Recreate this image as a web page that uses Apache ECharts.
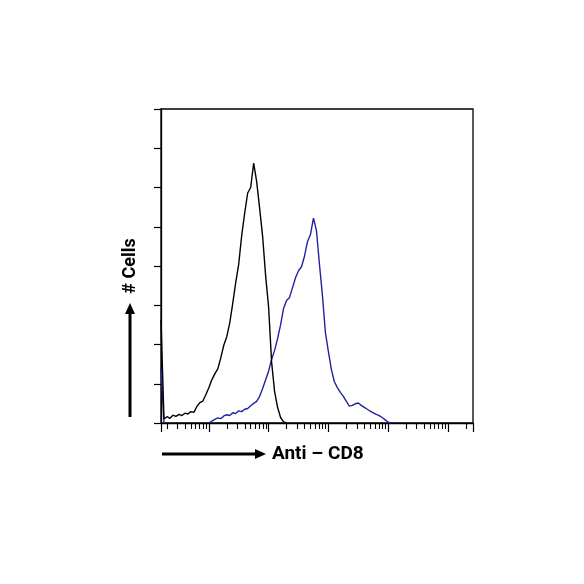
<!DOCTYPE html>
<html>
<head>
<meta charset="utf-8">
<script src="https://cdn.jsdelivr.net/npm/echarts@6/dist/echarts.min.js"></script>
<style>
  html, body { margin: 0; padding: 0; background: #fff; }
  #chart { width: 584px; height: 584px; }
</style>
</head>
<body>
<div id="chart"></div>
<script>
// x axis is log10 of the fluorescence intensity (FACS 18-bit range)
const xMin = 0.2
const xMax = 5.4185
const binStart = 0.2
const binWidth = 0.05

// isotype control (black) counts per bin
const isotypeCounts = [
  2.63, 0.10, 0.16, 0.12, 0.20, 0.17, 0.22, 0.19, 0.25, 0.23,
  0.29, 0.27, 0.42, 0.52, 0.56, 0.72, 0.90, 1.10, 1.25, 1.38,
  1.66, 1.98, 2.20, 2.55, 3.05, 3.58, 4.05, 4.78, 5.35, 5.86,
  6.00, 6.62, 6.15, 5.47, 4.75, 3.75, 2.95, 1.55, 0.80, 0.40,
  0.14, 0.03, 0
]

// anti-CD8 stained (blue) counts per bin
const cd8Counts = [
  1.40, 0, null, null, null, null, null, null, null, null,
  null, null, null, null, null, null, 0, 0.05, 0.09, 0.13,
  0.11, 0.18, 0.21, 0.19, 0.26, 0.24, 0.31, 0.29, 0.35, 0.37,
  0.44, 0.50, 0.55, 0.68, 0.88, 1.10, 1.32, 1.62, 1.85, 2.15,
  2.50, 2.92, 3.12, 3.20, 3.45, 3.70, 3.88, 3.98, 4.25, 4.62,
  4.80, 5.22, 4.90, 4.05, 3.25, 2.30, 1.82, 1.36, 1.05, 0.90,
  0.78, 0.68, 0.55, 0.43, 0.45, 0.49, 0.51, 0.45, 0.40, 0.35,
  0.30, 0.26, 0.22, 0.19, 0.14, 0.08, 0.02, 0
]

// tick positions on the log axis
const majorTicks = [0.2, 1, 2, 3, 4, 5, 5.4185]
const minorMultipliers = [2, 3, 4, 5, 6, 7, 8, 9]
const decades = [0, 1, 2, 3, 4, 5]

const yMax = 8
const xTitle = 'Anti – CD8'
const yTitle = '# Cells'

function toPoints(counts) {
  return counts.map((c, i) => [binStart + i * binWidth, c])
}

const minorTicks = []
decades.forEach(d => {
  minorMultipliers.forEach(m => {
    const v = d + Math.log10(m)
    if (v > xMin && v < xMax) minorTicks.push(v)
  })
})

const chart = echarts.init(document.getElementById('chart'))
const titleStyle = { fontFamily: 'Roboto', fontWeight: 'bold', fill: '#000' }

const option = {
  animation: false,
  backgroundColor: '#fff',
  grid: {
    left: 161, right: 111, top: 109, bottom: 161,
    show: true, borderColor: '#000', borderWidth: 1.3
  },
  xAxis: [
    {
      type: 'value', min: xMin, max: xMax,
      axisLine: { lineStyle: { color: '#000', width: 1.3 } },
      axisTick: { length: 9, customValues: majorTicks, lineStyle: { color: '#000', width: 1.2 } },
      axisLabel: { show: false },
      splitLine: { show: false }
    },
    {
      type: 'value', min: xMin, max: xMax, position: 'bottom',
      axisLine: { show: false },
      axisTick: { length: 6, customValues: minorTicks, lineStyle: { color: '#000', width: 1.1 } },
      axisLabel: { show: false },
      splitLine: { show: false }
    }
  ],
  yAxis: {
    type: 'value', min: 0, max: yMax, interval: 1,
    axisLine: { show: true, lineStyle: { color: '#000', width: 1.3 } },
    axisTick: { show: true, length: 7, lineStyle: { color: '#000', width: 1.2 } },
    axisLabel: { show: false },
    splitLine: { show: false }
  },
  series: [
    {
      name: 'CD8', type: 'line', symbol: 'none',
      data: toPoints(cd8Counts),
      lineStyle: { color: '#22229f', width: 1.4 },
      z: 3
    },
    {
      name: 'Isotype', type: 'line', symbol: 'none',
      data: toPoints(isotypeCounts),
      lineStyle: { color: '#000', width: 1.4 },
      z: 4
    }
  ],
  graphic: [
    // x axis arrow + title
    { type: 'line', shape: { x1: 162, y1: 454, x2: 257, y2: 454 }, style: { stroke: '#000', lineWidth: 3 } },
    { type: 'polygon', shape: { points: [[255, 449], [266, 454], [255, 459]] }, style: { fill: '#000' } },
    {
      type: 'text',
      style: Object.assign({ x: 272, y: 454, text: xTitle, fontSize: 19, verticalAlign: 'middle' }, titleStyle)
    },
    // y axis arrow + title
    { type: 'line', shape: { x1: 130, y1: 417, x2: 130, y2: 312 }, style: { stroke: '#000', lineWidth: 3 } },
    { type: 'polygon', shape: { points: [[125, 314], [130, 303], [135, 314]] }, style: { fill: '#000' } },
    {
      type: 'text', x: 130, y: 266, rotation: Math.PI / 2,
      style: Object.assign({ x: 0, y: 0, text: yTitle, fontSize: 18, align: 'center', verticalAlign: 'middle' }, titleStyle)
    }
  ]
}

chart.setOption(option)
</script>
</body>
</html>
